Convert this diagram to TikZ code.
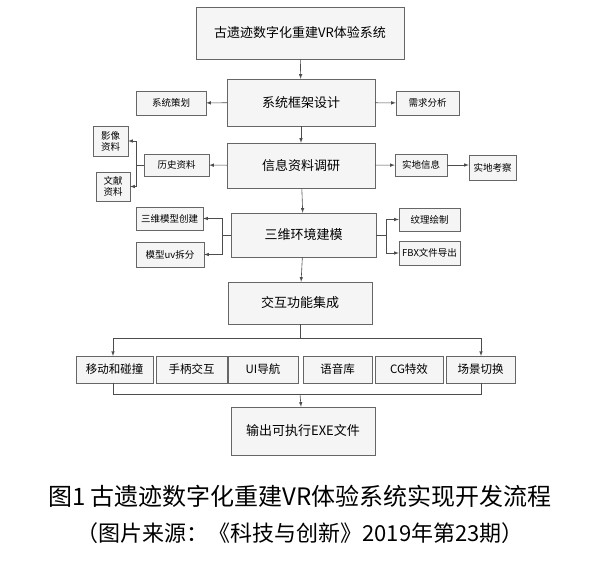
\documentclass[tikz,border=0pt]{standalone}
\usepackage{fontspec}
\setmainfont{Noto Sans CJK SC}
\begin{document}
\begin{tikzpicture}[x=1pt,y=-1pt,>=latex]
    \tikzset{box/.style={draw=black!60, fill=black!4, inner sep=0pt, align=center, font=\fontsize{9.5}{11}\selectfont},
             big/.style={box, font=\fontsize{13}{15}\selectfont},
             wire/.style={draw=black!70, line width=0.6pt}}
    \useasboundingbox (0,0) rectangle (600,561);
    % main column
    \node[big, minimum width=208, minimum height=52] (top) at (300,33) {古遗迹数字化重建VR体验系统};
    \node[big, minimum width=148, minimum height=47] (frame) at (301,102.5) {系统框架设计};
    \node[big, minimum width=148, minimum height=45] (info) at (301,165.5) {信息资料调研};
    \node[big, minimum width=145, minimum height=44] (model) at (303.5,235) {三维环境建模};
    \node[big, minimum width=144, minimum height=42] (inter) at (300,303) {交互功能集成};
    \node[big, minimum width=144, minimum height=48] (out) at (303,431) {输出可执行EXE文件};
    % side boxes
    \node[box, minimum width=70, minimum height=24] (plan) at (171,103) {系统策划};
    \node[box, minimum width=63, minimum height=24] (need) at (427.5,103) {需求分析};
    \node[box, minimum width=65, minimum height=22] (hist) at (176.5,165) {历史资料};
    \node[box, minimum width=35, minimum height=30] (image) at (110.5,141) {影像\\资料};
    \node[box, minimum width=34, minimum height=29] (docs) at (113,186.5) {文献\\资料};
    \node[box, minimum width=52, minimum height=22] (site) at (421,165) {实地信息};
    \node[box, minimum width=47, minimum height=25] (survey) at (492.5,167.5) {实地考察};
    \node[box, minimum width=67, minimum height=23] (mesh) at (169.5,218.5) {三维模型创建};
    \node[box, minimum width=68, minimum height=25] (uv) at (170,254.5) {模型uv拆分};
    \node[box, minimum width=61, minimum height=23] (tex) at (429.5,219.5) {纹理绘制};
    \node[box, minimum width=61, minimum height=24] (fbx) at (429.5,253) {FBX文件导出};
    % function row
    \node[box, minimum width=77, minimum height=27, font=\fontsize{11.5}{13}\selectfont] (move) at (114.5,369.5) {移动和碰撞};
    \node[box, minimum width=71, minimum height=27, font=\fontsize{11.5}{13}\selectfont] (pad) at (191.5,369.5) {手柄交互};
    \node[box, minimum width=70, minimum height=27, font=\fontsize{11.5}{13}\selectfont] (ui) at (263,369.5) {UI导航};
    \node[box, minimum width=69, minimum height=27, font=\fontsize{11.5}{13}\selectfont] (voice) at (337.5,369.5) {语音库};
    \node[box, minimum width=68, minimum height=27, font=\fontsize{11.5}{13}\selectfont] (cg) at (409,369.5) {CG特效};
    \node[box, minimum width=69, minimum height=27, font=\fontsize{11.5}{13}\selectfont] (scene) at (480.5,369.5) {场景切换};
    % main flow
    \draw[wire,->] (top) -- (frame);
    \draw[wire,->] (frame) -- (info);
    \draw[wire,->] (info) -- (model);
    \draw[wire,->] (model) -- (inter);
    \draw[wire,->] (frame) -- (plan);
    \draw[wire,->] (frame) -- (need);
    \draw[wire,->] (info) -- (hist);
    \draw[wire,->] (info) -- (site);
    \draw[wire,->] (site) -- (survey.west |- site);
    \draw[wire,->] (hist.west) -- (136,165) |- (image.east);
    \draw[wire,->] (136,165) |- (docs.east);
    \draw[wire,->] (model.west) -- (222,235) |- (mesh.east);
    \draw[wire,->] (222,235) |- (uv.east);
    \draw[wire,->] (model.east) -- (386,235) |- (tex.west);
    \draw[wire,->] (386,235) |- (fbx.west);
    % fan out and back in
    \draw[wire] (inter) -- (300,338);
    \draw[wire,->] (300,338) -| (113,356);
    \draw[wire,->] (300,338) -| (481,356);
    \draw[wire] (113,383) |- (481,394) -- (481,383);
    \draw[wire,->] (300,394) -- (out);
    % caption
    \node[font=\fontsize{24}{28}\selectfont] (cap) at (300,496) {图1 古遗迹数字化重建VR体验系统实现开发流程};
    \node[font=\fontsize{22}{26}\selectfont] (src) at (300,533) {（图片来源：《科技与创新》2019年第23期）};
\end{tikzpicture}
\end{document}
